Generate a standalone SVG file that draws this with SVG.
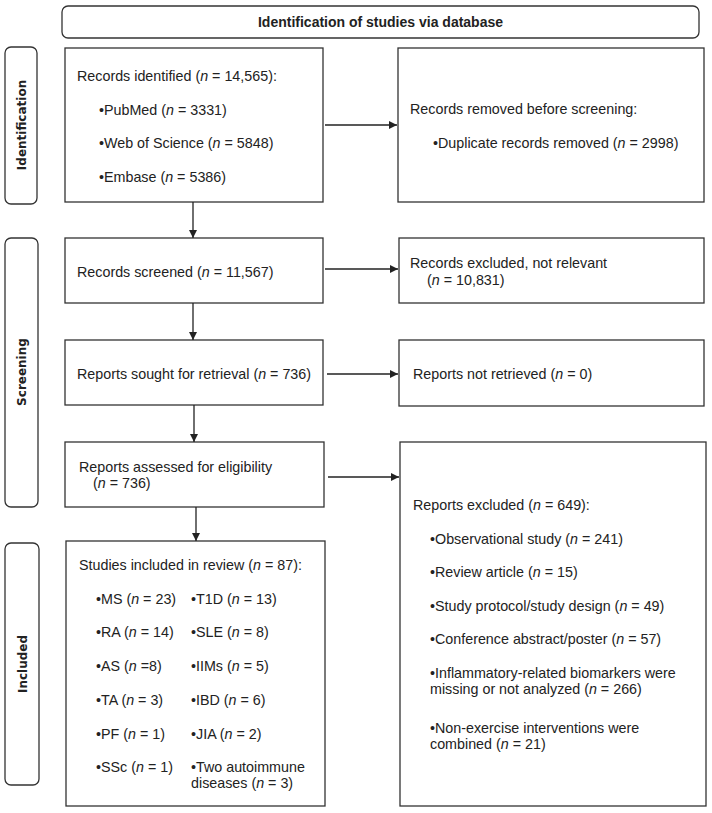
<svg xmlns="http://www.w3.org/2000/svg" width="712" height="813" viewBox="0 0 712 813">
<defs>
<style>
.bx{fill:#fff;stroke:#333;stroke-width:1.3}
.rb{fill:#fff;stroke:#333;stroke-width:1.3}
.t{font-family:"Liberation Sans",Arial,sans-serif;font-size:14.3px;fill:#222}
.tt{font-family:"Liberation Sans",Arial,sans-serif;font-size:14px;font-weight:bold;fill:#222}
.lb{font-family:"DejaVu Sans",sans-serif;font-size:12px;font-weight:bold;fill:#222}
.i{font-style:italic}
.c{stroke:#222;stroke-width:1.3;fill:none}
</style>
<marker id="ah" viewBox="0 0 10 10" refX="10" refY="5" markerWidth="8" markerHeight="8" markerUnits="userSpaceOnUse" orient="auto">
<path d="M0,0 L10,5 L0,10 z" fill="#222"/>
</marker>
</defs>
<rect width="712" height="813" fill="#fff"/>
<g id="title"><rect class="rb" x="62" y="6" width="637" height="32" rx="6"/><text class="tt" x="380.5" y="27" text-anchor="middle">Identification of studies via database</text></g>
<g id="stage-identification"><rect class="rb" x="5" y="47" width="32" height="157" rx="6"/><text class="lb" transform="translate(25.5,125) rotate(-90)" text-anchor="middle">Identification</text></g>
<g id="stage-screening"><rect class="rb" x="5" y="238" width="33" height="269" rx="6"/><text class="lb" transform="translate(26,372) rotate(-90)" text-anchor="middle">Screening</text></g>
<g id="stage-included"><rect class="rb" x="5" y="543" width="34" height="242" rx="6"/><text class="lb" transform="translate(26.5,664) rotate(-90)" text-anchor="middle">Included</text></g>
<g id="identified"><rect class="bx" x="65" y="48" width="258" height="154"/>
<text class="t" x="77" y="81">Records identified (<tspan class="i">n</tspan> = 14,565):</text>
<text class="t" x="99" y="115">•PubMed (<tspan class="i">n</tspan> = 3331)</text>
<text class="t" x="99" y="148">•Web of Science (<tspan class="i">n</tspan> = 5848)</text>
<text class="t" x="99" y="182">•Embase (<tspan class="i">n</tspan> = 5386)</text></g>
<g id="removed"><rect class="bx" x="398" y="48" width="306" height="154"/>
<text class="t" x="410" y="114">Records removed before screening:</text>
<text class="t" x="433" y="148">•Duplicate records removed (<tspan class="i">n</tspan> = 2998)</text></g>
<g id="screened"><rect class="bx" x="65" y="238" width="258" height="65"/>
<text class="t" x="77" y="277">Records screened (<tspan class="i">n</tspan> = 11,567)</text></g>
<g id="excluded1"><rect class="bx" x="399" y="238" width="305" height="65"/>
<text class="t" x="410" y="268">Records excluded, not relevant</text>
<text class="t" x="427" y="285">(<tspan class="i">n</tspan> = 10,831)</text></g>
<g id="sought"><rect class="bx" x="65" y="340" width="258" height="65"/>
<text class="t" x="77" y="379">Reports sought for retrieval (<tspan class="i">n</tspan> = 736)</text></g>
<g id="notretrieved"><rect class="bx" x="399" y="340" width="305" height="66"/>
<text class="t" x="413" y="379">Reports not retrieved (<tspan class="i">n</tspan> = 0)</text></g>
<g id="assessed"><rect class="bx" x="65" y="442" width="259" height="65"/>
<text class="t" x="79" y="472">Reports assessed for eligibility</text>
<text class="t" x="93" y="488">(<tspan class="i">n</tspan> = 736)</text></g>
<g id="excluded2"><rect class="bx" x="400" y="442" width="306" height="364"/>
<text class="t" x="413" y="510">Reports excluded (<tspan class="i">n</tspan> = 649):</text>
<text class="t" x="430" y="544">•Observational study (<tspan class="i">n</tspan> = 241)</text>
<text class="t" x="430" y="577">•Review article (<tspan class="i">n</tspan> = 15)</text>
<text class="t" x="430" y="611">•Study protocol/study design (<tspan class="i">n</tspan> = 49)</text>
<text class="t" x="430" y="644">•Conference abstract/poster (<tspan class="i">n</tspan> = 57)</text>
<text class="t" x="430" y="678">•Inflammatory-related biomarkers were</text>
<text class="t" x="430" y="694">missing or not analyzed (<tspan class="i">n</tspan> = 266)</text>
<text class="t" x="430" y="733">•Non-exercise interventions were</text>
<text class="t" x="430" y="749">combined (<tspan class="i">n</tspan> = 21)</text></g>
<g id="included"><rect class="bx" x="66" y="541" width="259" height="265"/>
<text class="t" x="79" y="570">Studies included in review (<tspan class="i">n</tspan> = 87):</text>
<text class="t" x="96" y="604">•MS (<tspan class="i">n</tspan> = 23)</text>
<text class="t" x="191" y="604">•T1D (<tspan class="i">n</tspan> = 13)</text>
<text class="t" x="96" y="637">•RA (<tspan class="i">n</tspan> = 14)</text>
<text class="t" x="191" y="637">•SLE (<tspan class="i">n</tspan> = 8)</text>
<text class="t" x="96" y="671">•AS (<tspan class="i">n</tspan> =8)</text>
<text class="t" x="191" y="671">•IIMs (<tspan class="i">n</tspan> = 5)</text>
<text class="t" x="96" y="705">•TA (<tspan class="i">n</tspan> = 3)</text>
<text class="t" x="191" y="705">•IBD (<tspan class="i">n</tspan> = 6)</text>
<text class="t" x="96" y="739">•PF (<tspan class="i">n</tspan> = 1)</text>
<text class="t" x="191" y="739">•JIA (<tspan class="i">n</tspan> = 2)</text>
<text class="t" x="96" y="772">•SSc (<tspan class="i">n</tspan> = 1)</text>
<text class="t" x="191" y="772">•Two autoimmune</text>
<text class="t" x="191" y="788">diseases (<tspan class="i">n</tspan> = 3)</text></g>
<g id="connectors">
<line class="c" x1="193" y1="202" x2="193" y2="238" marker-end="url(#ah)"/>
<line class="c" x1="193" y1="303" x2="193" y2="340" marker-end="url(#ah)"/>
<line class="c" x1="194" y1="405" x2="194" y2="442" marker-end="url(#ah)"/>
<line class="c" x1="196" y1="507" x2="196" y2="541" marker-end="url(#ah)"/>
<line class="c" x1="325" y1="125" x2="397" y2="125" marker-end="url(#ah)"/>
<line class="c" x1="325" y1="269" x2="398" y2="269" marker-end="url(#ah)"/>
<line class="c" x1="327" y1="374" x2="398" y2="374" marker-end="url(#ah)"/>
<line class="c" x1="328" y1="477" x2="399" y2="477" marker-end="url(#ah)"/>
</g>
</svg>
